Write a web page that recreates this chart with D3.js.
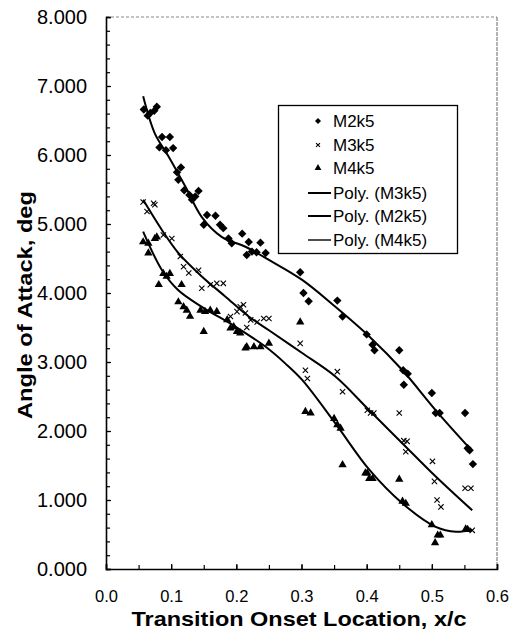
<!DOCTYPE html>
<html><head><meta charset="utf-8">
<script src="https://cdn.jsdelivr.net/npm/d3@7"></script>
<style>body{margin:0;background:#fff}svg{display:block}text{font-family:"Liberation Sans",Arial,sans-serif;fill:#000}</style>
</head><body><svg id="c" width="512" height="633"></svg>
<script>
// ---- data ----
const xTicks = [0, 0.1, 0.2, 0.3, 0.4, 0.5, 0.6];
const yTicks = [0, 1, 2, 3, 4, 5, 6, 7, 8];
const legendLabels = ["M2k5", "M3k5", "M4k5", "Poly. (M3k5)", "Poly. (M2k5)", "Poly. (M4k5)"];
const m2k5 = [[0.058,6.66],[0.064,6.57],[0.068,6.61],[0.074,6.64],[0.078,6.70],[0.086,6.26],[0.098,6.26],[0.082,6.11],[0.092,6.07],[0.103,6.10],[0.115,5.82],[0.109,5.75],[0.111,5.64],[0.120,5.49],[0.128,5.42],[0.132,5.35],[0.137,5.40],[0.142,5.48],[0.155,5.13],[0.168,5.12],[0.150,4.99],[0.175,4.99],[0.180,4.94],[0.188,4.79],[0.193,4.72],[0.209,4.86],[0.219,4.74],[0.216,4.55],[0.224,4.60],[0.231,4.59],[0.237,4.73],[0.245,4.58],[0.298,4.30],[0.303,4.00],[0.311,3.88],[0.355,3.89],[0.363,3.66],[0.400,3.40],[0.409,3.25],[0.412,3.17],[0.450,3.17],[0.456,2.88],[0.463,2.83],[0.457,2.67],[0.500,2.55],[0.506,2.26],[0.512,2.26],[0.551,2.26],[0.555,1.75],[0.558,1.72],[0.563,1.52]];
const m3k5 = [[0.057,5.32],[0.063,5.18],[0.073,5.30],[0.075,5.28],[0.088,4.84],[0.101,4.79],[0.114,4.53],[0.119,4.38],[0.127,4.29],[0.142,4.33],[0.147,4.07],[0.160,4.12],[0.170,4.14],[0.180,4.14],[0.191,3.66],[0.201,3.73],[0.206,3.80],[0.211,3.83],[0.214,3.71],[0.216,3.50],[0.222,3.61],[0.232,3.58],[0.242,3.63],[0.250,3.63],[0.298,3.27],[0.306,2.88],[0.309,2.76],[0.355,2.86],[0.363,2.57],[0.401,2.30],[0.406,2.26],[0.411,2.26],[0.450,2.26],[0.457,1.86],[0.462,1.85],[0.460,1.70],[0.501,1.56],[0.504,1.27],[0.551,1.17],[0.560,1.17],[0.508,1.00],[0.514,0.90],[0.562,0.56]];
const m4k5 = [[0.057,4.74],[0.065,4.72],[0.075,4.79],[0.078,4.81],[0.065,4.58],[0.081,4.12],[0.088,4.28],[0.093,4.24],[0.098,4.28],[0.116,4.12],[0.111,3.87],[0.119,3.80],[0.124,3.75],[0.129,3.66],[0.145,3.75],[0.152,3.73],[0.160,3.75],[0.170,3.73],[0.150,3.44],[0.186,3.61],[0.191,3.49],[0.196,3.51],[0.201,3.44],[0.206,3.42],[0.214,3.20],[0.216,3.22],[0.227,3.22],[0.237,3.22],[0.250,3.27],[0.298,3.58],[0.306,2.28],[0.314,2.26],[0.350,2.18],[0.355,2.09],[0.360,2.04],[0.363,1.51],[0.398,1.39],[0.401,1.39],[0.404,1.31],[0.409,1.31],[0.450,1.30],[0.455,0.98],[0.460,0.95],[0.500,0.64],[0.509,0.49],[0.513,0.49],[0.505,0.38],[0.552,0.58],[0.555,0.57]];
// trendlines (Poly.)
const polyM2k5 = [[0.057,6.85],[0.075,6.31],[0.096,5.98],[0.122,5.54],[0.147,5.10],[0.178,4.81],[0.214,4.67],[0.250,4.48],[0.301,4.19],[0.352,3.80],[0.404,3.37],[0.455,2.88],[0.506,2.30],[0.560,1.73]];
const polyM3k5 = [[0.057,5.35],[0.086,4.91],[0.111,4.58],[0.147,4.24],[0.183,3.95],[0.219,3.66],[0.250,3.46],[0.301,3.13],[0.352,2.79],[0.404,2.30],[0.455,1.82],[0.506,1.34],[0.562,0.85]];
const polyM4k5 = [[0.057,4.89],[0.086,4.33],[0.111,4.04],[0.147,3.80],[0.199,3.51],[0.245,3.22],[0.275,2.98],[0.301,2.74],[0.352,2.11],[0.404,1.44],[0.455,0.95],[0.506,0.61],[0.537,0.54],[0.562,0.57]];

// ---- drawing ----
const svg = d3.select("#c");
const L = 106, R = 497, T = 17, B = 569;
const x = d3.scaleLinear([0, 0.6], [L, R]);
const y = d3.scaleLinear([0, 8], [B, T]);

// frame: dotted top, dashed right
svg.append("line").attr("x1", L).attr("x2", R).attr("y1", T).attr("y2", T)
  .attr("stroke", "#888").attr("stroke-width", 1).attr("stroke-dasharray", "3,2");
svg.append("line").attr("x1", R).attr("x2", R).attr("y1", T).attr("y2", B)
  .attr("stroke", "#666").attr("stroke-width", 1).attr("stroke-dasharray", "4,1");

// minor ticks
svg.append("g").attr("transform", `translate(${L},0)`)
  .call(d3.axisLeft(y).tickValues(d3.range(0, 41).map(i => i * 0.2)).tickSize(-4).tickFormat(""))
  .call(g => g.select(".domain").remove());
svg.append("g").attr("transform", `translate(0,${B})`)
  .call(d3.axisBottom(x).tickValues(d3.range(0, 13).map(i => i * 0.05)).tickSize(-4).tickFormat(""))
  .call(g => g.select(".domain").remove());

// major axes
const ya = svg.append("g").attr("transform", `translate(${L},0)`)
  .call(d3.axisLeft(y).tickValues(yTicks).tickSize(-5).tickPadding(19).tickFormat(d3.format(".3f")));
ya.attr("font-family", null).attr("font-size", 20);
ya.selectAll("text").style("font-size", "20px").attr("textLength", 50).attr("lengthAdjust", "spacingAndGlyphs");
const xa = svg.append("g").attr("transform", `translate(0,${B})`)
  .call(d3.axisBottom(x).tickValues(xTicks).tickSize(-5).tickPadding(21).tickFormat(d3.format(".1f")));
xa.attr("font-family", null).attr("font-size", 16.5);
xa.selectAll("text").style("font-size", "16.5px");
svg.selectAll(".domain").attr("stroke", "#000").attr("stroke-width", 1.6);
svg.selectAll(".tick line").attr("stroke", "#000").attr("stroke-width", 1.2);

// axis titles
svg.append("text").attr("x", 299).attr("y", 626).attr("text-anchor", "middle")
  .attr("textLength", 335).attr("lengthAdjust", "spacingAndGlyphs")
  .style("font-size", "21px").style("font-weight", "bold").text("Transition Onset Location, x/c");
svg.append("text").attr("transform", "translate(32,305) rotate(-90)").attr("text-anchor", "middle")
  .attr("textLength", 228).attr("lengthAdjust", "spacingAndGlyphs")
  .style("font-size", "21px").style("font-weight", "bold").text("Angle of Attack, deg");

// trend lines
const line = d3.line().x(d => x(d[0])).y(d => y(d[1])).curve(d3.curveCatmullRom.alpha(0.5));
[polyM2k5, polyM3k5, polyM4k5].forEach(d => {
  svg.append("path").attr("d", line(d)).attr("fill", "none").attr("stroke", "#000").attr("stroke-width", 2);
});

// markers
const sq = (r) => ({draw(ctx) { ctx.moveTo(0, -r); ctx.lineTo(r, 0); ctx.lineTo(0, r); ctx.lineTo(-r, 0); ctx.closePath(); }});
const diamond = d3.symbol().type(sq(4.2));
const tri = d3.symbol().type(d3.symbolTriangle).size(30);
const cross = d3.symbol().type(d3.symbolX).size(20);
svg.append("g").selectAll("path").data(m2k5).join("path")
  .attr("transform", d => `translate(${x(d[0])},${y(d[1])})`).attr("d", diamond).attr("fill", "#000");
svg.append("g").selectAll("path").data(m4k5).join("path")
  .attr("transform", d => `translate(${x(d[0])},${y(d[1])})`).attr("d", tri).attr("fill", "#000");
svg.append("g").selectAll("path").data(m3k5).join("path")
  .attr("transform", d => `translate(${x(d[0])},${y(d[1])})`).attr("d", cross)
  .attr("fill", "none").attr("stroke", "#000").attr("stroke-width", 1.1);

// legend
const lg = svg.append("g");
lg.append("rect").attr("x", 278.5).attr("y", 105.5).attr("width", 179).attr("height", 148)
  .attr("fill", "#fff").attr("stroke", "#000").attr("stroke-width", 1.3);
const rowY = [121, 145, 168, 193, 216, 240];
const legSym = [d3.symbol().type(sq(3)), d3.symbol().type(d3.symbolX).size(12), d3.symbol().type(d3.symbolTriangle).size(20)];
legendLabels.forEach((lab, i) => {
  const yy = rowY[i];
  if (i < 3) {
    const p = lg.append("path").attr("transform", `translate(318,${yy})`).attr("d", legSym[i]);
    if (i === 1) p.attr("fill", "none").attr("stroke", "#000").attr("stroke-width", 1.1);
    else p.attr("fill", "#000");
  } else {
    lg.append("line").attr("x1", 308).attr("x2", 331).attr("y1", yy).attr("y2", yy)
      .attr("stroke", "#000").attr("stroke-width", i === 5 ? 1.4 : 2);
  }
  lg.append("text").attr("x", 333).attr("y", yy).attr("dy", "0.36em")
    .style("font-size", "17px").text(lab);
});
</script></body></html>
